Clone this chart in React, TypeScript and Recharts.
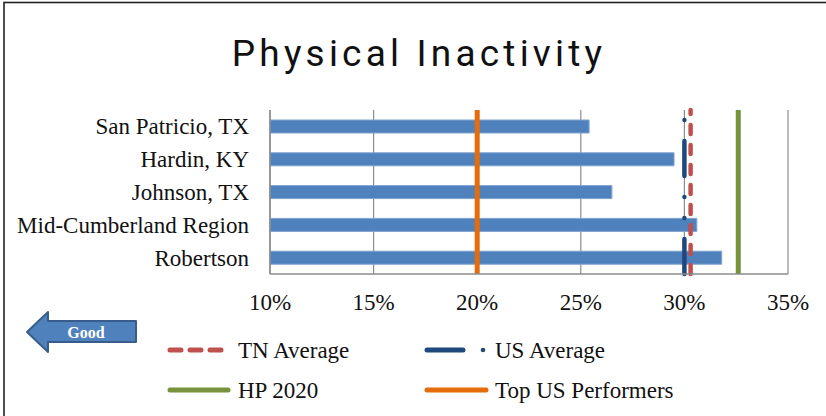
import React from 'react';
import { BarChart, Bar, XAxis, YAxis, CartesianGrid, ReferenceLine } from 'recharts';

const categories = ['San Patricio, TX', 'Hardin, KY', 'Johnson, TX', 'Mid-Cumberland Region', 'Robertson'];
const inactivity = [25.4, 29.5, 26.5, 30.6, 31.8];
const xTicks = [10, 15, 20, 25, 30, 35];

const tnAverage = 30.3;
const usAverage = 30.0;
const hp2020 = 32.6;
const topUsPerformers = 20.0;

const legendNames = ['TN Average', 'US Average', 'HP 2020', 'Top US Performers'];
const title = 'Physical Inactivity';
const arrowLabel = 'Good';

const data = categories.map((name, i) => ({ name, value: inactivity[i] }));

const SERIF = '"Liberation Serif", "Times New Roman", serif';
const BLUE = '#4F81BD';
const RED = '#C0504D';
const NAVY = '#1F497D';
const GREEN = '#77933C';
const ORANGE = '#E46C0A';

const bottomUp = (stroke: string, width: number, dash?: string) => (p: any) => (
  <line
    x1={p.x1}
    x2={p.x2}
    y1={Math.max(p.y1, p.y2)}
    y2={Math.min(p.y1, p.y2)}
    stroke={stroke}
    strokeWidth={width}
    strokeDasharray={dash}
    strokeLinecap={dash ? 'round' : 'butt'}
    fill="none"
  />
);

const YTick = (props: any) => {
  const { x, y, payload } = props;
  return (
    <text x={x - 19} y={y} dy="0.35em" textAnchor="end" fontFamily={SERIF} fontSize={23} fill="#111">
      {payload.value}
    </text>
  );
};

const XTick = (props: any) => {
  const { x, y, payload } = props;
  return (
    <text x={x} y={y + 28} textAnchor="middle" fontFamily={SERIF} fontSize={23} fill="#111">
      {`${payload.value}%`}
    </text>
  );
};

const legendItems = [
  { name: legendNames[0], col: 0, row: 0, kind: 'tn' },
  { name: legendNames[1], col: 1, row: 0, kind: 'us' },
  { name: legendNames[2], col: 0, row: 1, kind: 'hp' },
  { name: legendNames[3], col: 1, row: 1, kind: 'top' },
];

function LegendSwatch({ kind, x, y }: { kind: string; x: number; y: number }) {
  if (kind === 'tn') {
    return <line x1={x + 2} x2={x + 55} y1={y} y2={y} stroke={RED} strokeWidth={5} strokeDasharray="11 9" strokeLinecap="round" />;
  }
  if (kind === 'us') {
    return (
      <g>
        <line x1={x + 2} x2={x + 38} y1={y} y2={y} stroke={NAVY} strokeWidth={5} strokeLinecap="round" />
        <circle cx={x + 58} cy={y} r={2.3} fill={NAVY} />
      </g>
    );
  }
  if (kind === 'hp') {
    return <line x1={x + 2} x2={x + 60} y1={y} y2={y} stroke={GREEN} strokeWidth={5} strokeLinecap="round" />;
  }
  return <line x1={x + 2} x2={x + 61} y1={y} y2={y} stroke={ORANGE} strokeWidth={5} strokeLinecap="round" />;
}

export default function App() {
  return (
    <div style={{ position: 'absolute', left: 0, top: 0, width: 826, height: 416, background: '#fff' }}>
      <BarChart
        width={826}
        height={416}
        data={data}
        layout="vertical"
        margin={{ top: 110, right: 38, left: 8, bottom: 112 }}
        barCategoryGap={0}
      >
        <CartesianGrid horizontal={false} vertical={true} stroke="#8C8C8C" strokeWidth={1.2} />
        <XAxis
          type="number"
          domain={[10, 35]}
          ticks={xTicks}
          interval={0}
          height={30}
          axisLine={{ stroke: '#8C8C8C', strokeWidth: 1.5 }}
          tickLine={false}
          tick={<XTick />}
        />
        <YAxis
          type="category"
          dataKey="name"
          width={262}
          axisLine={{ stroke: '#8C8C8C', strokeWidth: 1.5 }}
          tickLine={false}
          tickSize={0}
          tick={<YTick />}
        />
        <Bar dataKey="value" fill={BLUE} stroke="#7FA3D0" strokeWidth={1} barSize={13} isAnimationActive={false} />
        <ReferenceLine x={topUsPerformers} shape={bottomUp(ORANGE, 5)} />
        <ReferenceLine x={hp2020} shape={bottomUp(GREEN, 5)} />
        <ReferenceLine x={usAverage} shape={bottomUp(NAVY, 4.5, '35 21 0.01 21 0.01 21')} />
        <ReferenceLine x={tnAverage} shape={bottomUp(RED, 4.5, '9 11')} />
      </BarChart>
      <svg
        width={826}
        height={416}
        style={{ position: 'absolute', left: 0, top: 0, pointerEvents: 'none' }}
      >
        <rect x={4} y={2.5} width={900} height={500} fill="none" stroke="#222" strokeWidth={1.6} />
        <text
          x={419}
          y={66}
          textAnchor="middle"
          fontFamily="Roboto, 'Liberation Sans', sans-serif"
          fontWeight={400}
          fontSize={37}
          letterSpacing={4.2}
          fill="#111"
        >
          {title}
        </text>
        <polygon
          points="27,332 48,312 48,321 136,321 136,342 48,342 48,352"
          fill={BLUE}
          stroke="#385D8A"
          strokeWidth={2}
          strokeLinejoin="round"
        />
        <text x={86} y={338} textAnchor="middle" fontFamily={SERIF} fontWeight="bold" fontSize={16} fill="#fff">
          {arrowLabel}
        </text>
        {legendItems.map((it) => {
          const sx = it.col === 0 ? 168 : 425;
          const sy = it.row === 0 ? 350 : 390;
          return (
            <g key={it.name}>
              <LegendSwatch kind={it.kind} x={sx} y={sy} />
              <text x={sx + 70} y={sy + 7.5} fontFamily={SERIF} fontSize={23} fill="#111">
                {it.name}
              </text>
            </g>
          );
        })}
      </svg>
    </div>
  );
}
